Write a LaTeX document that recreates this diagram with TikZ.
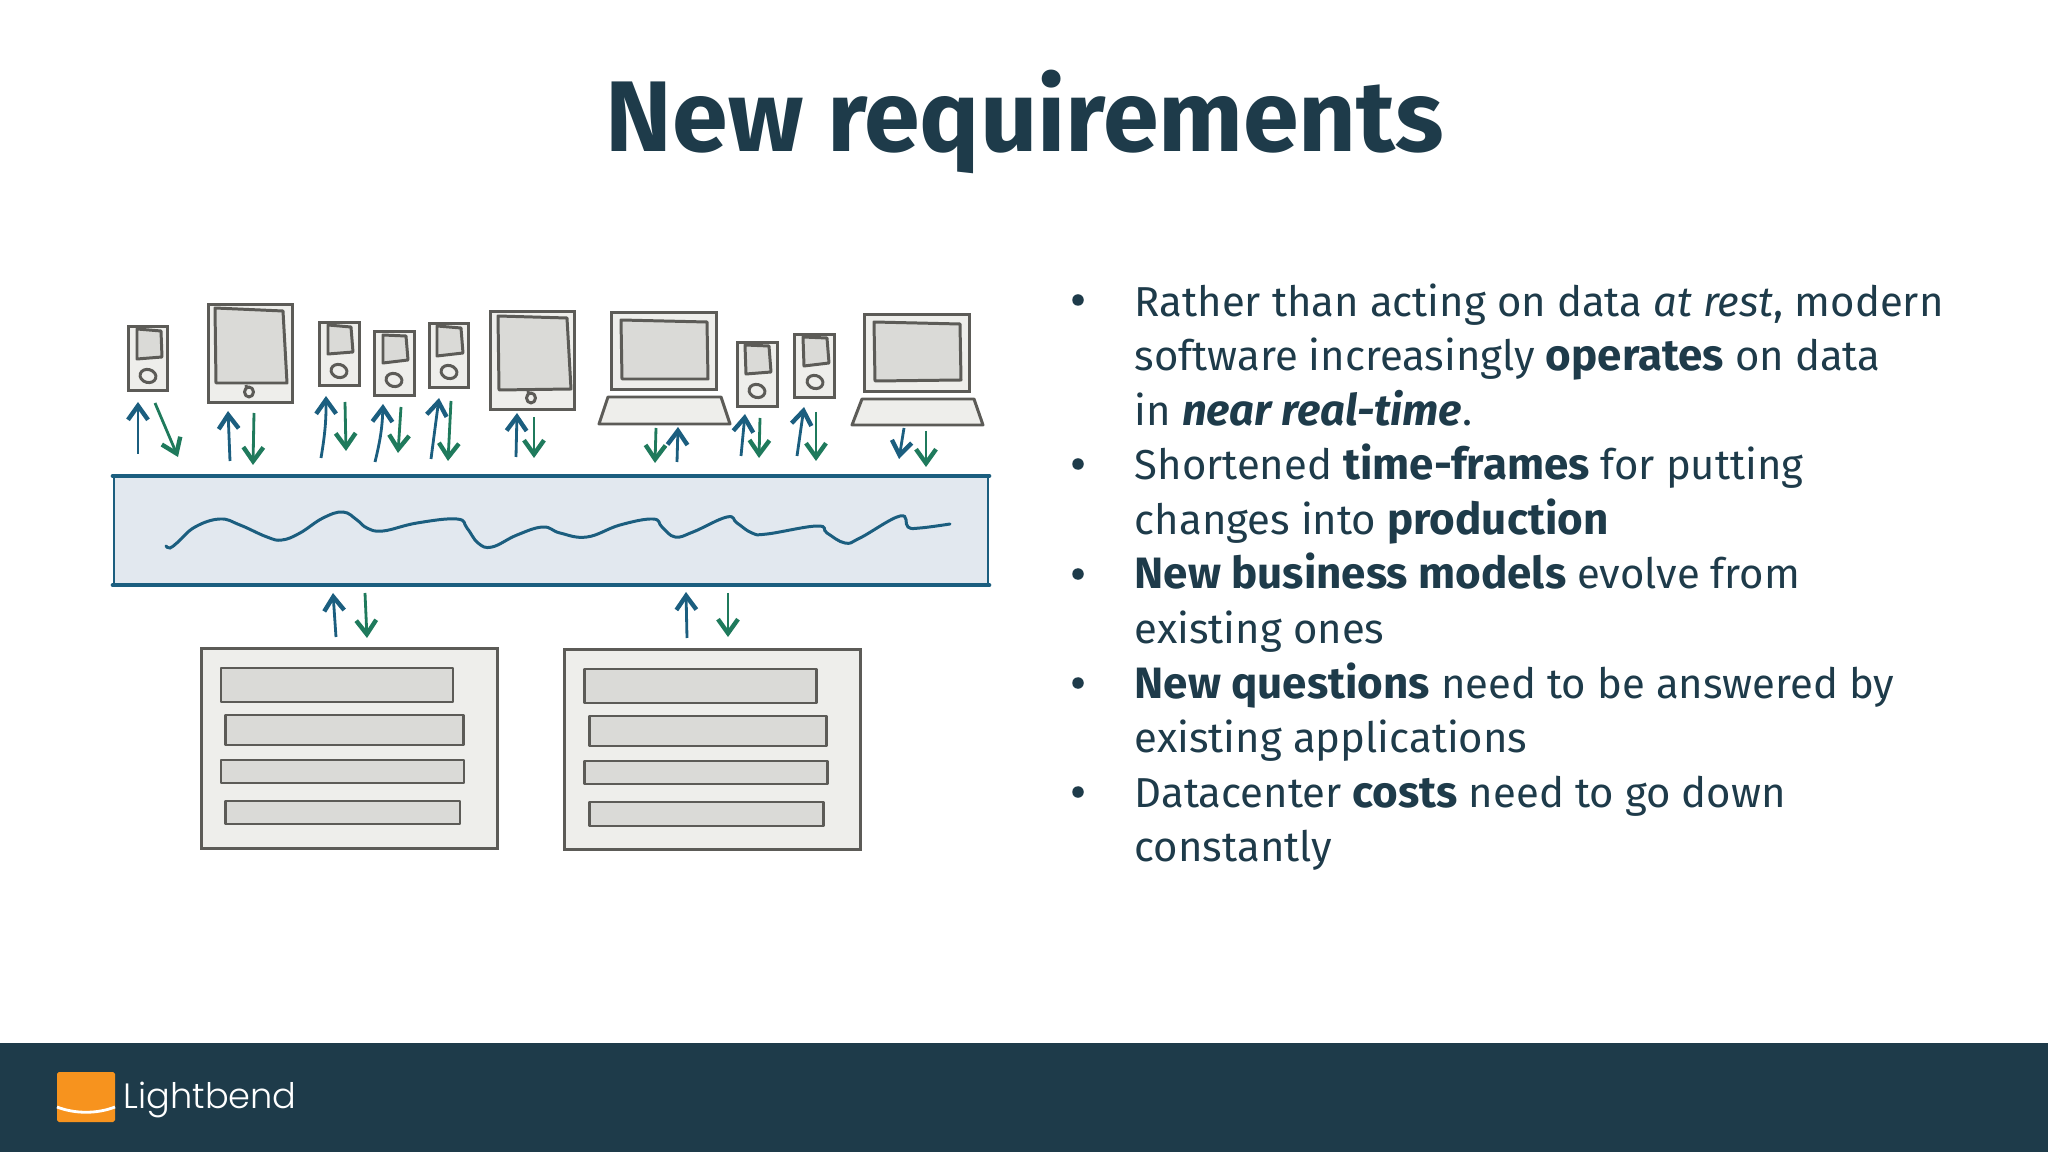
\documentclass[tikz,border=0pt]{standalone}
\usepackage{fontspec}
\usetikzlibrary{arrows.meta,positioning}
\setmainfont{Fira Sans}[BoldFeatures={Scale=1.05},BoldItalicFeatures={Scale=1.04}]
\newfontfamily\logofont{Poppins Light}
\definecolor{myInk}{HTML}{1E3B4A}
\definecolor{myBlue}{HTML}{1B5E7F}
\definecolor{myGreen}{HTML}{1F7A5C}
\definecolor{myGrey}{HTML}{5C5B57}
\definecolor{myBody}{HTML}{EEEEEB}
\definecolor{myScreen}{HTML}{DADAD7}
\definecolor{myBus}{HTML}{E2E8EF}
\definecolor{myOrange}{HTML}{F7931E}

\begin{document}
\begin{tikzpicture}
[
x=0.01cm,y=-0.01cm,
arr/.style={line width=.8pt,>={Straight Barb[length=1.4mm,width=2mm,line width=1.25pt]}},
upflow/.style={arr,myBlue},
downflow/.style={arr,myGreen},
device/.style={rectangle,draw=myGrey,fill=myBody,line width=.85pt,inner sep=0pt},
phone/.style={device,minimum width=3.95mm,minimum height=6.35mm},
tablet/.style={device,minimum width=8.3mm,minimum height=9.7mm},
lid/.style={device,minimum width=10.4mm,minimum height=7.6mm},
server/.style={device,minimum width=29.5mm,minimum height=19.9mm},
screen/.style={draw=myGrey,fill=myScreen,line width=.85pt,line join=round},
bus/.style={rectangle,draw=myBlue,fill=myBus,line width=.6pt,inner sep=0pt,minimum width=87.4mm,minimum height=10.7mm},
busedge/.style={myBlue,line width=1.15pt,line cap=round},
bodytext/.style={anchor=base west,inner sep=0pt,text=myInk,font=\fontsize{11.9}{14}\selectfont},
dot/.style={circle,fill=myInk,inner sep=0pt,minimum width=1.15mm},
]

\useasboundingbox (0,0) rectangle (2048,1152);

% Footer
\fill[myInk] (0,1043) rectangle (2048,1152);
\fill[myOrange,rounded corners=.5pt] (57,1072) rectangle (115,1122);
\draw[white,line width=.8pt] (57,1107) .. controls (75,1114) and (97,1114) .. (115,1107);
\node[anchor=base west,inner sep=0pt,text=white] (logo) at (123,1108) {\logofont\fontsize{10}{12}\selectfont Lightbend};

% Title
\node[anchor=base,inner sep=0pt,text=myInk] (title) at (1025,152) {\fontsize{27.2}{34}\selectfont\bfseries New requirements};

% Nodes
\node[bus] (bus) at (551,530.5) {};
\node[phone] (phone1) at (148,358.5) {};
\node[tablet] (tablet1) at (250.5,353.5) {};
\node[phone] (phone2) at (339.5,354) {};
\node[phone] (phone3) at (394.5,363.5) {};
\node[phone] (phone4) at (449,355.5) {};
\node[tablet] (tablet2) at (532.5,360.5) {};
\node[lid] (lid1) at (664,351) {};
\node[phone] (phone5) at (757.5,374.5) {};
\node[phone] (phone6) at (814.5,366) {};
\node[lid] (lid2) at (917,353) {};
\node[server] (server1) at (349.5,748.5) {};
\node[server] (server2) at (712.5,749.5) {};
\draw[busedge] (bus.north west) -- (bus.north east);
\draw[busedge] (bus.south west) -- (bus.south east);

% Screens
\draw[screen] (137,329) -- (161,331) -- (162,357) -- (137,359) -- cycle;
\draw[screen] (215,308) -- (283,311) -- (287,383) -- (216,383) -- cycle;
\draw[screen] (328,325) -- (351,327) -- (353,352) -- (328,354) -- cycle;
\draw[screen] (383,335) -- (406,336) -- (408,360) -- (383,363) -- cycle;
\draw[screen] (437,326) -- (461,328) -- (463,353) -- (437,356) -- cycle;
\draw[screen] (498,316) -- (567,318) -- (571,389) -- (499,390) -- cycle;
\draw[screen] (621,320) -- (707,322) -- (708,379) -- (622,379) -- cycle;
\draw[screen] (745,345) -- (769,346) -- (771,372) -- (746,374) -- cycle;
\draw[screen] (803,337) -- (827,338) -- (829,363) -- (804,366) -- cycle;
\draw[screen] (874,322) -- (960,324) -- (961,380) -- (875,381) -- cycle;

% Buttons
\draw[screen,fill=none,rotate around={-15:(148,376)}] (148,376) ellipse (8 and 6.5);
\draw[screen,fill=none] (249,392) ellipse (4.5 and 5) (246,385) -- (247,389);
\draw[screen,fill=none,rotate around={-15:(339,371)}] (339,371) ellipse (8 and 6.5);
\draw[screen,fill=none,rotate around={-15:(394,380)}] (394,380) ellipse (8 and 6.5);
\draw[screen,fill=none,rotate around={-15:(449,372)}] (449,372) ellipse (8 and 6.5);
\draw[screen,fill=none] (531,398) ellipse (4.5 and 5) (528,391) -- (529,395);
\draw[screen,fill=none,rotate around={-15:(757,391)}] (757,391) ellipse (8 and 6.5);
\draw[screen,fill=none,rotate around={-15:(815,382)}] (815,382) ellipse (8 and 6.5);

% Keyboards
\draw[screen,fill=myBody] (608,397) -- (721,397) -- (730,424) -- (599,424) -- cycle;
\draw[screen,fill=myBody] (862,399) -- (974,399) -- (983,425) -- (852,425) -- cycle;

% Server bars
\draw[screen] (221,668) rectangle (453,702);
\draw[screen] (225.5,715) rectangle (463.5,745);
\draw[screen] (221,760) rectangle (464,783);
\draw[screen] (225.5,801) rectangle (460,824);
\draw[screen] (584,669) rectangle (816,703);
\draw[screen] (589,716) rectangle (826,746);
\draw[screen] (584.5,761) rectangle (827,784);
\draw[screen] (589,802) rectangle (823,826);

% Wave
\draw[myBlue,line width=.85pt,line cap=round] plot[smooth,tension=.7] coordinates {(166,546) (170,548) (178,542) (195,527) (220,519) (240,525) (267,537) (282,540) (300,533) (323,518) (343,512) (357,520) (367,528) (383,531) (417,523) (457,519) (467,528) (478,543) (492,547) (517,535) (543,527) (560,533) (587,537) (620,525) (653,519) (662,527) (675,537) (693,532) (727,517) (737,523) (752,533) (767,534) (817,526) (827,533) (845,543) (860,538) (900,516) (908,527) (920,528) (950,524)};

% Arrow ends
\coordinate (a1) at (138,454); \coordinate (b1) at (138,402);
\coordinate (a2) at (155,403); \coordinate (b2) at (178,457);
\coordinate (a3) at (230,461); \coordinate (b3) at (228,411);
\coordinate (a4) at (254,413); \coordinate (b4) at (253,465);
\coordinate (a5) at (321,458); \coordinate (b5) at (326,396);
\coordinate (a6) at (345,402); \coordinate (b6) at (346,451);
\coordinate (a7) at (375,462); \coordinate (b7) at (383,404);
\coordinate (a8) at (401,407); \coordinate (b8) at (398,453);
\coordinate (a9) at (431,459); \coordinate (b9) at (439,398);
\coordinate (a10) at (451,401); \coordinate (b10) at (448,461);
\coordinate (a11) at (516,457); \coordinate (b11) at (517,413);
\coordinate (a12) at (534,417); \coordinate (b12) at (534,458);
\coordinate (a13) at (656,428); \coordinate (b13) at (655,463);
\coordinate (a14) at (677,462); \coordinate (b14) at (678,427);
\coordinate (a15) at (741,456); \coordinate (b15) at (745,414);
\coordinate (a16) at (760,418); \coordinate (b16) at (759,458);
\coordinate (a17) at (797,456); \coordinate (b17) at (804,407);
\coordinate (a18) at (816,412); \coordinate (b18) at (816,461);
\coordinate (a19) at (904,428); \coordinate (b19) at (899,459);
\coordinate (a20) at (926,431); \coordinate (b20) at (926,467);
\coordinate (a21) at (336,637); \coordinate (b21) at (333,593);
\coordinate (a22) at (365,593); \coordinate (b22) at (367,638);
\coordinate (a23) at (687,638); \coordinate (b23) at (686,592);
\coordinate (a24) at (728,593); \coordinate (b24) at (728,637);

% Edges
\draw[] (a1) edge[upflow,->] (b1);
\draw[] (a2) edge[downflow,->] (b2);
\draw[] (a3) edge[upflow,->] (b3);
\draw[] (a4) edge[downflow,->] (b4);
\draw[] (a5) edge[upflow,->,bend right=5] (b5);
\draw[] (a6) edge[downflow,->] (b6);
\draw[] (a7) edge[upflow,->,bend right=6] (b7);
\draw[] (a8) edge[downflow,->] (b8);
\draw[] (a9) edge[upflow,->] (b9);
\draw[] (a10) edge[downflow,->] (b10);
\draw[] (a11) edge[upflow,->] (b11);
\draw[] (a12) edge[downflow,->] (b12);
\draw[] (a13) edge[downflow,->] (b13);
\draw[] (a14) edge[upflow,->] (b14);
\draw[] (a15) edge[upflow,->] (b15);
\draw[] (a16) edge[downflow,->] (b16);
\draw[] (a17) edge[upflow,->] (b17);
\draw[] (a18) edge[downflow,->] (b18);
\draw[] (a19) edge[upflow,->] (b19);
\draw[] (a20) edge[downflow,->] (b20);
\draw[] (a21) edge[upflow,->] (b21);
\draw[] (a22) edge[downflow,->] (b22);
\draw[] (a23) edge[upflow,->] (b23);
\draw[] (a24) edge[downflow,->] (b24);

% Text
\node[dot] (dot1) at (1078,300) {};
\node[dot] (dot2) at (1078,464) {};
\node[dot] (dot3) at (1078,574) {};
\node[dot] (dot4) at (1078,683) {};
\node[dot] (dot5) at (1078,792) {};
\node[bodytext] (line1) at (1134,316.5) {Rather than acting on data \emph{at rest}, modern};
\node[bodytext] (line2) at (1134,371) {software increasingly \textbf{operates} on data};
\node[bodytext] (line3) at (1134,425.5) {in \textbf{\emph{near real-time}}.};
\node[bodytext] (line4) at (1134,480) {Shortened \textbf{time-frames} for putting};
\node[bodytext] (line5) at (1134,534.5) {changes into \textbf{production}};
\node[bodytext] (line6) at (1134,589) {\textbf{New business models} evolve from};
\node[bodytext] (line7) at (1134,643.5) {existing ones};
\node[bodytext] (line8) at (1134,698) {\textbf{New questions} need to be answered by};
\node[bodytext] (line9) at (1134,752.5) {existing applications};
\node[bodytext] (line10) at (1134,807) {Datacenter \textbf{costs} need to go down};
\node[bodytext] (line11) at (1134,861.5) {constantly};

\end{tikzpicture}
\end{document}
